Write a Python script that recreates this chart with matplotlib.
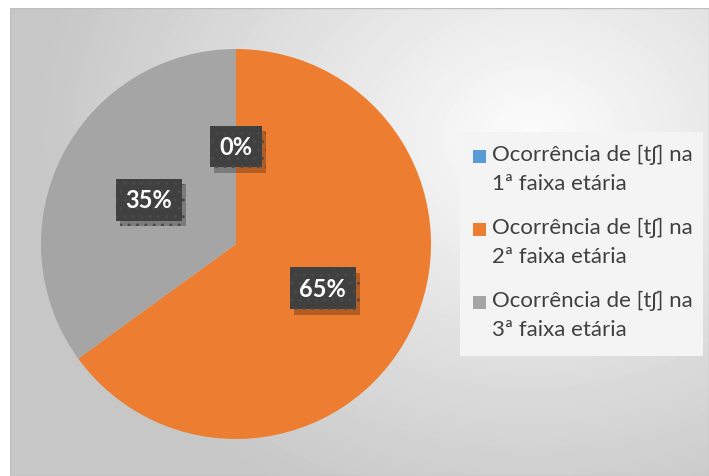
import numpy as np
import matplotlib
matplotlib.use("Agg")
import matplotlib.pyplot as plt
from matplotlib.patches import Rectangle
from matplotlib import patheffects

plt.rcParams['font.family'] = ['Lato', 'DejaVu Sans']

# dados
faixas = ["Ocorrência de [tʃ] na\n1ª faixa etária",
          "Ocorrência de [tʃ] na\n2ª faixa etária",
          "Ocorrência de [tʃ] na\n3ª faixa etária"]
valores = [0, 65, 35]
rotulos = ["0%", "65%", "35%"]
cores = ["#5B9BD5", "#ED7D31", "#A5A5A5"]

W, H = 709, 477
fig = plt.figure(figsize=(W / 100, H / 100), dpi=100)
fig.patch.set_facecolor("white")

# fundo com gradiente (area do grafico)
bg = fig.add_axes([10 / W, 0, 699 / W, 468 / H])
bg.set_axis_off()
yy, xx = np.mgrid[0:468, 0:699]
d = np.sqrt(((xx - 520) / 520.0) ** 2 + ((yy - 130) / 420.0) ** 2)
grad = np.clip(0.99 - 0.22 * d, 0.78, 1.0)
bg.imshow(grad, cmap="gray", vmin=0, vmax=1, aspect="auto",
          extent=[0, 1, 0, 1], interpolation="bilinear")
bg.add_patch(Rectangle((0, 0), 1, 1, transform=bg.transAxes, fill=False,
                       edgecolor="#bfbfbf", linewidth=1))

# pizza
ax = fig.add_axes([41 / W, 37 / H, 390 / W, 390 / H])
ax.set_facecolor("none")
wedges, _ = ax.pie(valores, colors=cores, startangle=90, counterclock=False,
                   radius=1.0, wedgeprops=dict(linewidth=0))
ax.set_xlim(-1, 1)
ax.set_ylim(-1, 1)
ax.set_aspect("equal")
ax.set_axis_off()

total = float(sum(valores))
ang0 = 90.0
for v, r in zip(valores, rotulos):
    frac = v / total
    mid = ang0 - frac * 360 / 2
    ang0 -= frac * 360
    x = 0.5 * np.cos(np.radians(mid))
    y = 0.5 * np.sin(np.radians(mid))
    t = ax.text(x, y, r, ha="center", va="center", fontsize=17,
                fontweight="bold", color="white",
                bbox=dict(boxstyle="square,pad=0.4", facecolor="#404040",
                          edgecolor="#4a4a4a", linewidth=0, hatch=".."))
    t.get_bbox_patch().set_path_effects([
        patheffects.SimplePatchShadow(offset=(3, -4), shadow_rgbFace="black",
                                      alpha=0.25),
        patheffects.Normal()])

# legenda (desenhada a mao para alinhar o quadrado com a 1a linha)
fig.patches.append(Rectangle((460 / W, 1 - 357 / H), 243 / W, 224 / H,
                             transform=fig.transFigure, facecolor="#f4f4f4",
                             edgecolor="none", zorder=1))
for i, (lab, c) in enumerate(zip(faixas, cores)):
    yc = 157 + 73 * i
    fig.patches.append(Rectangle((473 / W, 1 - (yc + 6.5) / H), 13 / W, 13 / H,
                                 transform=fig.transFigure, facecolor=c,
                                 edgecolor="none", zorder=2))
    fig.text(492 / W, 1 - (yc - 12) / H, lab, ha="left", va="top",
             fontsize=16, color="#404040", linespacing=1.55, zorder=3)

fig.savefig("out.png", dpi=100)
